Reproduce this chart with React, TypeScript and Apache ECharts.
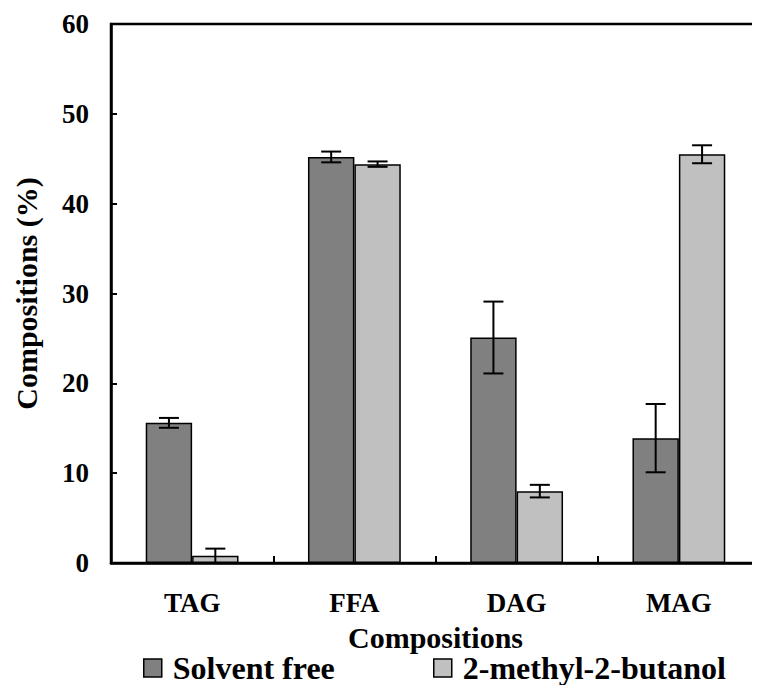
import React, { useEffect, useRef } from "react";
import * as echarts from "echarts";

const categories = ["TAG", "FFA", "DAG", "MAG"];
const solventFree = [15.6, 45.2, 25.1, 13.9];
const solventFreeErr = [0.55, 0.6, 4.0, 3.8];
const methylButanol = [0.8, 44.4, 8.0, 45.5];
const methylButanolErr = [0.8, 0.3, 0.7, 1.0];
const yTicks = [0, 10, 20, 30, 40, 50, 60];

const FONT = "'Liberation Serif', 'Times New Roman', serif";
const BAR_FRAC = 0.286;

function errorBars(offsetSign: number) {
  return (params: any, api: any) => {
    const cat = api.value(0);
    const v = api.value(1);
    const e = api.value(2);
    const band = api.size([1, 0])[0];
    const off = offsetSign * 0.5 * band * BAR_FRAC;
    const top = api.coord([cat, v + e]);
    const bot = api.coord([cat, Math.max(0, v - e)]);
    const x = top[0] + off;
    const cap = 10;
    const style = { stroke: "#000", lineWidth: 2 };
    return {
      type: "group",
      children: [
        { type: "line", shape: { x1: x, y1: top[1], x2: x, y2: bot[1] }, style },
        { type: "line", shape: { x1: x - cap, y1: top[1], x2: x + cap, y2: top[1] }, style },
        { type: "line", shape: { x1: x - cap, y1: bot[1], x2: x + cap, y2: bot[1] }, style },
      ],
    };
  };
}

export default function App() {
  const ref = useRef<HTMLDivElement>(null);
  useEffect(() => {
    if (!ref.current) return;
    const chart = echarts.init(ref.current, null, { renderer: "svg" });
    const legendBase = {
      orient: "horizontal",
      top: 652,
      padding: 0,
      itemWidth: 18,
      itemHeight: 18,
      icon: "rect",
      itemStyle: { borderColor: "#000", borderWidth: 1.5 },
      textStyle: {
        fontFamily: FONT,
        fontWeight: "bold",
        fontSize: 32,
        color: "#000",
        padding: [0, 0, 0, 6],
      },
    };
    chart.setOption({
      animation: false,
      backgroundColor: "#fff",
      grid: {
        left: 111,
        top: 24,
        right: -9,
        bottom: 130,
        show: true,
        borderColor: "#000",
        borderWidth: 2.5,
      },
      legend: [
        { ...legendBase, left: 143, data: ["Solvent free"] },
        { ...legendBase, left: 433, data: ["2-methyl-2-butanol"] },
      ],
      xAxis: {
        type: "category",
        data: categories,
        name: "Compositions",
        nameLocation: "middle",
        nameGap: 59,
        nameTextStyle: { fontFamily: FONT, fontWeight: "bold", fontSize: 30, color: "#000" },
        axisLine: { lineStyle: { color: "#000", width: 2.5 } },
        axisTick: { show: true, inside: true, length: 7, lineStyle: { color: "#000", width: 2 } },
        axisLabel: { fontFamily: FONT, fontWeight: "bold", fontSize: 27, color: "#000", margin: 26 },
      },
      yAxis: {
        type: "value",
        min: yTicks[0],
        max: yTicks[yTicks.length - 1],
        interval: 10,
        name: "Compositions (%)",
        nameLocation: "middle",
        nameGap: 70,
        nameTextStyle: { fontFamily: FONT, fontWeight: "bold", fontSize: 30, color: "#000" },
        axisLine: { show: true, lineStyle: { color: "#000", width: 2.5 } },
        axisTick: { show: true, inside: true, length: 6, lineStyle: { color: "#000", width: 2 } },
        axisLabel: { fontFamily: FONT, fontWeight: "bold", fontSize: 27, color: "#000", margin: 22 },
        splitLine: { show: false },
      },
      series: [
        {
          name: "Solvent free",
          type: "bar",
          data: solventFree,
          barWidth: BAR_FRAC * 100 + "%",
          barGap: "0%",
          itemStyle: { color: "#808080", borderColor: "#000", borderWidth: 1.5 },
        },
        {
          name: "2-methyl-2-butanol",
          type: "bar",
          data: methylButanol,
          barWidth: BAR_FRAC * 100 + "%",
          barGap: "0%",
          itemStyle: { color: "#C0C0C0", borderColor: "#000", borderWidth: 1.5 },
        },
        {
          type: "custom",
          renderItem: errorBars(-1),
          data: categories.map((_, i) => [i, solventFree[i], solventFreeErr[i]]),
          encode: { x: 0, y: 1 },
          z: 10,
        },
        {
          type: "custom",
          renderItem: errorBars(1),
          data: categories.map((_, i) => [i, methylButanol[i], methylButanolErr[i]]),
          encode: { x: 0, y: 1 },
          z: 10,
        },
      ],
    });
    return () => chart.dispose();
  }, []);
  return <div ref={ref} style={{ width: 760, height: 693, margin: -8 }} />;
}
